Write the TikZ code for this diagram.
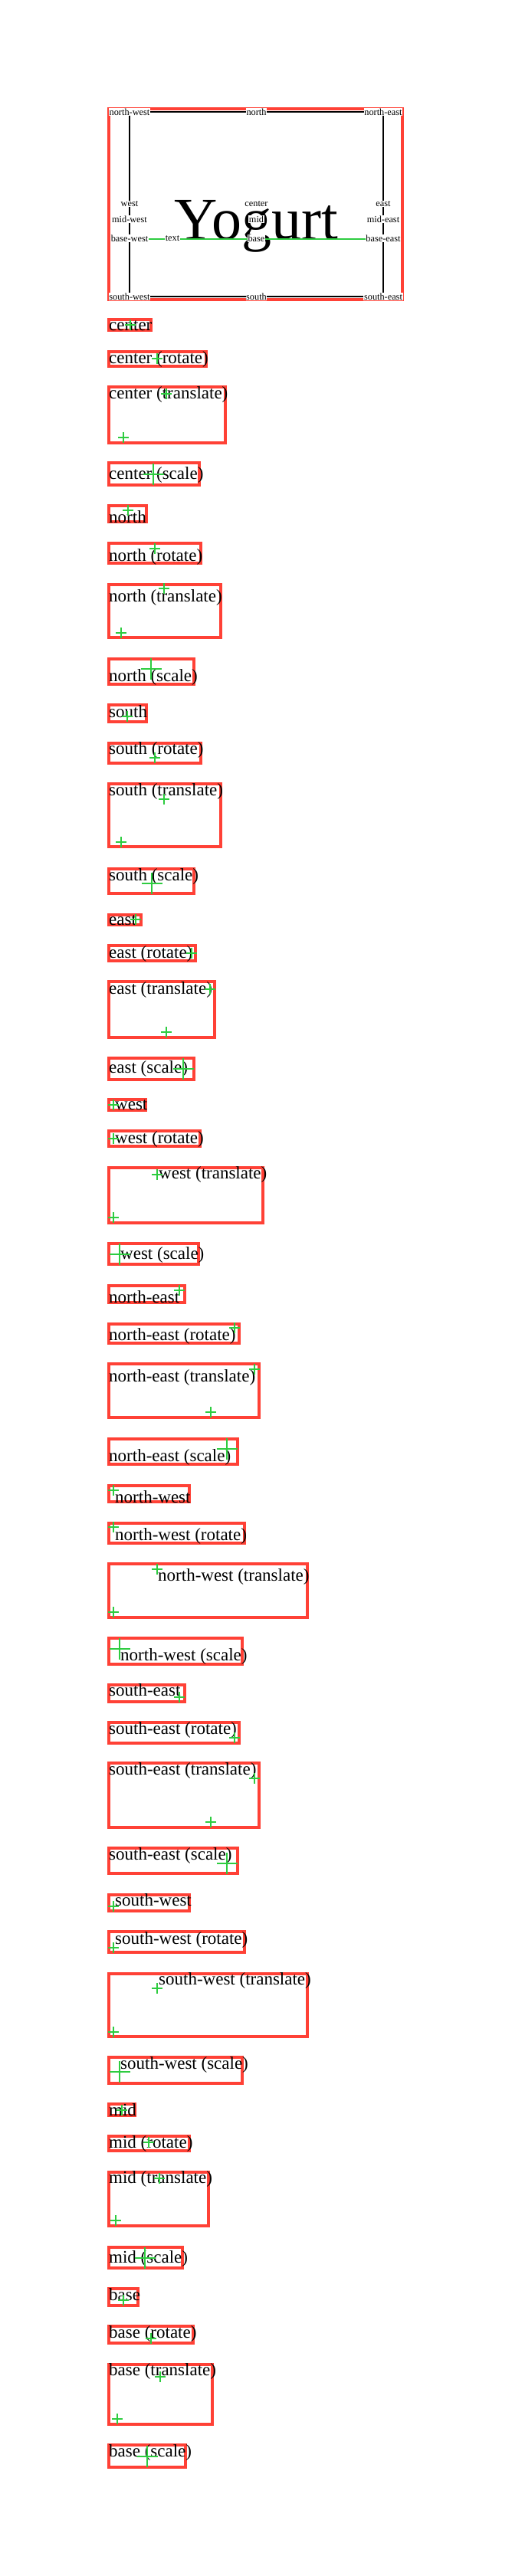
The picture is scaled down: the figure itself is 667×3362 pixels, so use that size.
\documentclass[tikz,border=0pt]{standalone}
\usepackage{fontspec}
\setmainfont{Liberation Serif}
\definecolor{tred}{HTML}{FF4136}
\definecolor{tgreen}{HTML}{2ECC40}
\newcommand{\anchorbox}[7]{%
  \draw[redbox] (142,{#2+2}) rectangle ({#4-2},{#3-2});
  \node[itemtext] (#1) at (#5,#6) {#7};
}
\newcommand{\scross}[2]{%
  \draw[crossline] ({#1-7},#2) -- ({#1+7},#2) (#1,{#2-7}) -- (#1,{#2+7});
}
\newcommand{\bcross}[2]{%
  \draw[crossline] ({#1-13.5},#2) -- ({#1+13.5},#2) (#1,{#2-14}) -- (#1,{#2+14});
}
\begin{document}
\begin{tikzpicture}[x=1pt,y=-1pt,
  redbox/.style={draw=tred,line width=4pt},
  itemtext/.style={anchor=base west,inner sep=0pt,font=\fontsize{23}{27}\selectfont},
  crossline/.style={draw=tgreen,line width=1.6pt},
  lbl/.style={fill=white,inner sep=0.6pt,font=\fontsize{12.3}{14}\selectfont}]
\useasboundingbox (0,0) rectangle (667,3362);
% ---------- top figure ----------
\draw[redbox] (142,142) rectangle (525,391);
\draw[line width=1.9pt] (169,146) rectangle (500,387);
\node[anchor=base,inner sep=0pt,font=\fontsize{78}{80}\selectfont] (yog) at (334.5,312) {Yogurt};
\draw[tgreen,line width=1.6pt] (169,312) -- (500,312);
\node[lbl] (nw) at (169,146) {north-west};
\node[lbl] (n) at (334.5,146) {north};
\node[lbl] (ne) at (500,146) {north-east};
\node[lbl] (w) at (169,266) {west};
\node[lbl] (c) at (334.5,266) {center};
\node[lbl] (e) at (500,266) {east};
\node[lbl] (mw) at (169,286) {mid-west};
\node[lbl] (m) at (334.5,286) {mid};
\node[lbl] (me) at (500,286) {mid-east};
\node[lbl] (bw) at (169,311) {base-west};
\node[lbl] (tx) at (225,311) {text};
\node[lbl] (b) at (334.5,311) {base};
\node[lbl] (be) at (500,311) {base-east};
\node[lbl] (sw) at (169,387) {south-west};
\node[lbl] (s) at (334.5,387) {south};
\node[lbl] (se) at (500,387) {south-east};
% ---------- list ----------
\anchorbox{i1}{415}{433}{199}{142}{431}{center} \scross{170}{424}
\anchorbox{i2}{457}{480}{271}{142}{474}{center (rotate)} \scross{205}{468}
\anchorbox{i3}{503}{580}{296}{142}{520}{center (translate)} \scross{217}{514} \scross{161}{571}
\anchorbox{i4}{602}{635}{262}{142}{625}{center (scale)} \bcross{200}{619}
\anchorbox{i5}{658}{683}{193}{142}{682}{north} \scross{167}{666}
\anchorbox{i6}{707}{737}{264}{142}{732}{north (rotate)} \scross{202}{716}
\anchorbox{i7}{761}{834}{290}{142}{785}{north (translate)} \scross{214}{768} \scross{158}{826}
\anchorbox{i8}{858}{895}{255}{142}{889}{north (scale)} \bcross{197}{873}
\anchorbox{i9}{918}{944}{193}{142}{936}{south} \scross{166}{935}
\anchorbox{i10}{968}{998}{264}{142}{984}{south (rotate)} \scross{202}{989}
\anchorbox{i11}{1021}{1107}{290}{142}{1038}{south (translate)} \scross{214}{1043} \scross{158}{1099}
\anchorbox{i12}{1132}{1168}{255}{142}{1149}{south (scale)} \bcross{198}{1153}
\anchorbox{i13}{1192}{1209}{186}{142}{1207}{east} \scross{177}{1200}
\anchorbox{i14}{1232}{1256}{257}{142}{1250}{east (rotate)} \scross{250}{1244}
\anchorbox{i15}{1279}{1356}{282}{142}{1297}{east (translate)} \scross{274}{1291} \scross{217}{1347}
\anchorbox{i16}{1379}{1411}{255}{142}{1400}{east (scale)} \bcross{239}{1395}
\anchorbox{i17}{1433}{1451}{192}{150}{1448}{west} \scross{148}{1442}
\anchorbox{i18}{1474}{1498}{263}{150}{1492}{west (rotate)} \scross{148}{1486}
\anchorbox{i19}{1522}{1598}{345}{207}{1538}{west (translate)} \scross{205}{1533} \scross{148}{1589}
\anchorbox{i20}{1621}{1652}{261}{157}{1643}{west (scale)} \bcross{156}{1637}
\anchorbox{i21}{1676}{1702}{243}{142}{1700}{north-east} \scross{234}{1684}
\anchorbox{i22}{1726}{1755}{314}{142}{1749}{north-east (rotate)} \scross{306}{1733}
\anchorbox{i23}{1778}{1852}{340}{142}{1803}{north-east (translate)} \scross{332}{1787} \scross{275}{1843}
\anchorbox{i24}{1876}{1913}{312}{142}{1907}{north-east (scale)} \bcross{296}{1891}
\anchorbox{i25}{1937}{1962}{249}{150}{1961}{north-west} \scross{148}{1945}
\anchorbox{i26}{1986}{2016}{321}{150}{2010}{north-west (rotate)} \scross{148}{1993}
\anchorbox{i27}{2039}{2113}{403}{206}{2063}{north-west (translate)} \scross{205}{2048} \scross{148}{2104}
\anchorbox{i28}{2136}{2174}{318}{157}{2167}{north-west (scale)} \bcross{156}{2152}
\anchorbox{i29}{2197}{2223}{243}{142}{2213}{south-east} \scross{234}{2215}
\anchorbox{i30}{2246}{2277}{314}{142}{2263}{south-east (rotate)} \scross{306}{2268}
\anchorbox{i31}{2299}{2387}{340}{142}{2316}{south-east (translate)} \scross{332}{2321} \scross{275}{2378}
\anchorbox{i32}{2410}{2447}{312}{142}{2427}{south-east (scale)} \bcross{296}{2432}
\anchorbox{i33}{2471}{2496}{249}{150}{2487}{south-west} \scross{148}{2488}
\anchorbox{i34}{2519}{2550}{321}{150}{2537}{south-west (rotate)} \scross{148}{2542}
\anchorbox{i35}{2574}{2660}{403}{207}{2590}{south-west (translate)} \scross{205}{2595} \scross{148}{2652}
\anchorbox{i36}{2683}{2721}{318}{157}{2700}{south-west (scale)} \bcross{156}{2704}
\anchorbox{i37}{2744}{2763}{178}{142}{2761}{mid} \scross{159}{2754}
\anchorbox{i38}{2786}{2809}{249}{142}{2803}{mid (rotate)} \scross{194}{2796}
\anchorbox{i39}{2833}{2907}{274}{142}{2849}{mid (translate)} \scross{208}{2843} \scross{151}{2898}
\anchorbox{i40}{2931}{2962}{240}{142}{2953}{mid (scale)} \bcross{189}{2947}
\anchorbox{i41}{2985}{3011}{182}{142}{3002}{base} \scross{161}{3002}
\anchorbox{i42}{3034}{3060}{254}{142}{3051}{base (rotate)} \scross{197}{3052}
\anchorbox{i43}{3084}{3166}{279}{142}{3100}{base (translate)} \scross{209}{3102} \scross{153}{3157}
\anchorbox{i44}{3189}{3222}{244}{142}{3206}{base (scale)} \bcross{192}{3206}
\end{tikzpicture}
\end{document}
